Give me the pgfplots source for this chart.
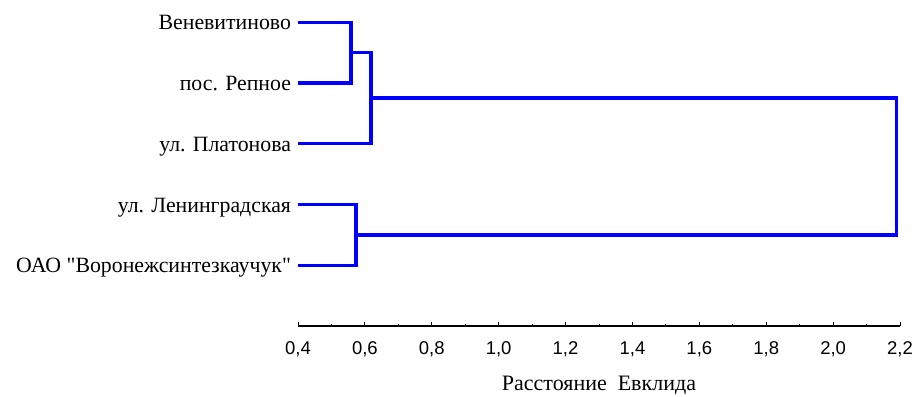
\documentclass[border=0pt]{standalone}
\usepackage{fontspec}
\setmainfont{Liberation Serif}
\newfontfamily\tnr{Liberation Serif}
\newfontfamily\arialfont{Liberation Sans}
\usepackage{pgfplots}
\pgfplotsset{compat=1.18}
\definecolor{dblue}{RGB}{0,0,255}
\begin{document}
\begin{tikzpicture}[x=1pt,y=1pt]
\useasboundingbox (-298,-70) rectangle (617,326);
\begin{axis}[
  at={(0,0)}, anchor=south west,
  scale only axis, width=602pt, height=325pt,
  xmin=0.4, xmax=2.2, ymin=0, ymax=5.35,
  axis x line*=bottom, axis y line*=left,
  y axis line style={draw=none},
  ytick style={draw=none},
  x axis line style={black, line width=1.2pt},
  xtick={0.4,0.6,0.8,1.0,1.2,1.4,1.6,1.8,2.0,2.2},
  minor x tick num=1,
  tick align=inside,
  major tick length=4pt, minor tick length=2.5pt,
  x tick style={black, line width=0.9pt},
  xticklabel style={font=\arialfont\fontsize{18.5}{18.5}\selectfont, anchor=base, yshift=-28pt,
    /pgf/number format/.cd, fixed, fixed zerofill, precision=1, use comma, assume math mode=true},
  ytick={1,2,3,4,5},
  yticklabels={ОАО "Воронежсинтезкаучук", ул. Ленинградская, ул. Платонова, пос. Репное, Веневитиново},
  yticklabel style={font=\tnr\fontsize{21.8}{21.8}\selectfont, anchor=base east, yshift=-7.5pt, xshift=-3.5pt},
  clip=false,
]
\addplot[dblue, line width=3.4pt] coordinates {(0.4,5) (0.558,5) (0.558,4) (0.4,4)};
\addplot[dblue, line width=3.4pt] coordinates {(0.558,4.5) (0.618,4.5) (0.618,3) (0.4,3)};
\addplot[dblue, line width=3.4pt] coordinates {(0.4,2) (0.573,2) (0.573,1) (0.4,1)};
\addplot[dblue, line width=3.4pt] coordinates {(0.573,1.5) (2.19,1.5) (2.19,3.75) (0.618,3.75)};
\node[anchor=base, font=\tnr\fontsize{22}{22}\selectfont] at (rel axis cs:0.5,0) [yshift=-64pt] {Расстояние\ \ Евклида};
\end{axis}
\end{tikzpicture}
\end{document}
